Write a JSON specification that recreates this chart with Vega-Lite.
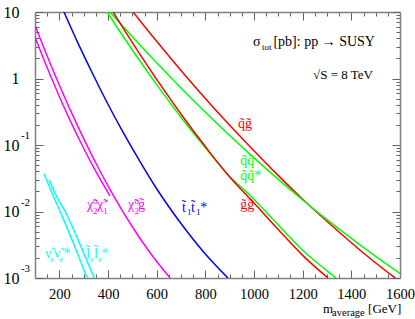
{
  "$schema": "https://vega.github.io/schema/vega-lite/v6.json",
  "width": 365,
  "height": 266,
  "autosize": {"type": "none"},
  "padding": {"left": 35, "top": 12, "right": 15, "bottom": 41},
  "config": {
    "view": {"stroke": null},
    "axis": {"domainColor": "#808080", "domainWidth": 1.5, "tickColor": "#606060", "tickWidth": 1, "labelFont": "Liberation Serif", "labelColor": "#000000", "grid": false, "title": null}
  },
  "datasets": {
    "curves": [
      {"p":"nn","x":137,"y":0.037},{"p":"nn","x":170,"y":0.019},{"p":"nn","x":203,"y":0.01},{"p":"nn","x":260,"y":0.0032},{"p":"nn","x":314,"y":0.001},
      {"p":"ll","x":158,"y":0.030},{"p":"ll","x":190,"y":0.0165},{"p":"ll","x":224,"y":0.01},{"p":"ll","x":285,"y":0.0032},{"p":"ll","x":343,"y":0.001},
      {"p":"c2c1","x":100,"y":4.2},{"p":"c2c1","x":120,"y":2.72},{"p":"c2c1","x":140,"y":1.79},{"p":"c2c1","x":168,"y":1.01},{"p":"c2c1","x":200,"y":0.537},{"p":"c2c1","x":240,"y":0.254},{"p":"c2c1","x":285,"y":0.115},{"p":"c2c1","x":350,"y":0.040},{"p":"c2c1","x":408,"y":0.0172},
      {"p":"c2g","x":100,"y":6.3},{"p":"c2g","x":120,"y":4.1},{"p":"c2g","x":150,"y":2.18},{"p":"c2g","x":200,"y":0.80},{"p":"c2g","x":250,"y":0.307},{"p":"c2g","x":300,"y":0.125},{"p":"c2g","x":360,"y":0.0455},{"p":"c2g","x":420,"y":0.018},{"p":"c2g","x":500,"y":0.0059},{"p":"c2g","x":570,"y":0.00248},{"p":"c2g","x":655,"y":0.001},
      {"p":"tt","x":219,"y":10},{"p":"tt","x":280,"y":3.2},{"p":"tt","x":340,"y":1.12},{"p":"tt","x":400,"y":0.41},{"p":"tt","x":460,"y":0.16},{"p":"tt","x":525,"y":0.062},{"p":"tt","x":600,"y":0.022},{"p":"tt","x":700,"y":0.0066},{"p":"tt","x":800,"y":0.0023},{"p":"tt","x":893,"y":0.001},
      {"p":"qg","x":503,"y":10},{"p":"qg","x":600,"y":3.62},{"p":"qg","x":700,"y":1.32},{"p":"qg","x":800,"y":0.50},{"p":"qg","x":881,"y":0.235},{"p":"qg","x":984,"y":0.094},{"p":"qg","x":1100,"y":0.0346},{"p":"qg","x":1200,"y":0.0153},{"p":"qg","x":1353,"y":0.0048},{"p":"qg","x":1470,"y":0.00207},{"p":"qg","x":1580,"y":0.001},
      {"p":"qq","x":408,"y":10},{"p":"qq","x":460,"y":6.14},{"p":"qq","x":520,"y":3.53},{"p":"qq","x":600,"y":1.72},{"p":"qq","x":700,"y":0.72},{"p":"qq","x":832,"y":0.24},{"p":"qq","x":900,"y":0.139},{"p":"qq","x":984,"y":0.0723},{"p":"qq","x":1100,"y":0.0304},{"p":"qq","x":1200,"y":0.0149},{"p":"qq","x":1300,"y":0.00753},{"p":"qq","x":1400,"y":0.00393},{"p":"qq","x":1500,"y":0.00211},{"p":"qq","x":1600,"y":0.00117},
      {"p":"qqs","x":396,"y":10},{"p":"qqs","x":450,"y":5.0},{"p":"qqs","x":500,"y":2.68},{"p":"qqs","x":600,"y":0.81},{"p":"qqs","x":708,"y":0.24},{"p":"qqs","x":800,"y":0.0908},{"p":"qqs","x":900,"y":0.0337},{"p":"qqs","x":984,"y":0.0174},{"p":"qqs","x":1107,"y":0.0059},{"p":"qqs","x":1200,"y":0.00262},{"p":"qqs","x":1300,"y":0.00128},{"p":"qqs","x":1337,"y":0.001},
      {"p":"gg","x":421,"y":10},{"p":"gg","x":470,"y":5.16},{"p":"gg","x":520,"y":2.67},{"p":"gg","x":600,"y":0.97},{"p":"gg","x":717,"y":0.24},{"p":"gg","x":800,"y":0.0947},{"p":"gg","x":900,"y":0.033},{"p":"gg","x":984,"y":0.0155},{"p":"gg","x":1107,"y":0.0050},{"p":"gg","x":1200,"y":0.00219},{"p":"gg","x":1304,"y":0.001}
    ],
    "labels": [
      {"k":"L","x":934,"y":0.18,"t":"q̃g̃","p":"qg"},
      {"k":"L","x":943,"y":0.050,"t":"q̃q̃","p":"qq"},
      {"k":"L","x":943,"y":0.030,"t":"q̃q̃*","p":"qqs"},
      {"k":"L","x":943,"y":0.0108,"t":"g̃g̃","p":"gg"},
      {"k":"L","x":704,"y":0.0099,"t":"t̃","p":"tt"},
      {"k":"L","x":741,"y":0.0099,"t":"t̃","p":"tt"},
      {"k":"L","x":779,"y":0.0099,"t":"*","p":"tt"},
      {"k":"L","x":482,"y":0.011,"t":"χ̃","p":"c2g"},
      {"k":"L","x":523,"y":0.011,"t":"g̃","p":"c2g"},
      {"k":"L","x":314,"y":0.011,"t":"χ̃","p":"c2c1"},
      {"k":"L","x":355,"y":0.011,"t":"χ̃","p":"c2c1"},
      {"k":"L","x":141,"y":0.0020,"t":"ν̃","p":"nn"},
      {"k":"L","x":178,"y":0.0020,"t":"ν̃","p":"nn"},
      {"k":"L","x":217,"y":0.0020,"t":"*","p":"nn"},
      {"k":"L","x":310,"y":0.0020,"t":"l̃","p":"ll"},
      {"k":"L","x":342,"y":0.0020,"t":"l̃","p":"ll"},
      {"k":"L","x":373,"y":0.0020,"t":"*","p":"ll"},
      {"k":"X","x":1284,"y":0.000298,"t":"m","p":"k"},
      {"k":"X","x":1469,"y":0.000298,"t":"[GeV]","p":"k"},
      {"k":"S","x":725,"y":0.0089,"t":"1","p":"tt"},
      {"k":"S","x":762,"y":0.0089,"t":"1","p":"tt"},
      {"k":"S","x":509,"y":0.013,"t":"o","p":"c2g"},
      {"k":"S","x":509,"y":0.0091,"t":"2","p":"c2g"},
      {"k":"S","x":338,"y":0.013,"t":"o","p":"c2c1"},
      {"k":"S","x":338,"y":0.0091,"t":"2","p":"c2c1"},
      {"k":"S","x":380,"y":0.013,"t":"+","p":"c2c1"},
      {"k":"S","x":380,"y":0.0091,"t":"1","p":"c2c1"},
      {"k":"S","x":162,"y":0.00174,"t":"e","p":"nn"},
      {"k":"S","x":199,"y":0.00174,"t":"e","p":"nn"},
      {"k":"S","x":326,"y":0.00174,"t":"e","p":"ll"},
      {"k":"S","x":359,"y":0.00174,"t":"e","p":"ll"},
      {"k":"S","x":1033,"y":2.69,"t":"tot","p":"k"},
      {"k":"A","x":1321,"y":0.000268,"t":"average","p":"k"},
      {"k":"G","x":996,"y":3.08,"t":"σ","p":"k"},
      {"k":"H","x":1497,"y":3.08,"t":"[pb]: pp → SUSY","p":"k"},
      {"k":"R","x":1489,"y":0.983,"t":"√S = 8 TeV","p":"k"},
      {"k":"E","x":42,"y":0.123,"t":"-1","p":"k"},
      {"k":"E","x":42,"y":0.0123,"t":"-2","p":"k"},
      {"k":"E","x":42,"y":0.00123,"t":"-3","p":"k"}
    ]
  },
  "resolve": {"axis": {"x": "independent", "y": "independent"}},
  "layer": [
    {
      "data": {"name": "curves"},
      "mark": {"type": "line", "strokeWidth": 1.5, "clip": true, "interpolate": "monotone"},
      "encoding": {
        "x": {"field": "x", "type": "quantitative", "scale": {"domain": [100, 1600], "nice": false, "zero": false},
          "axis": {"orient": "bottom", "values": [100,150,200,250,300,350,400,450,500,550,600,650,700,750,800,850,900,950,1000,1050,1100,1150,1200,1250,1300,1350,1400,1450,1500,1550,1600], "format": "d", "labelExpr": "datum.value % 200 == 0 ? datum.label : ''", "labelFont": "Liberation Serif", "labelFontSize": 14.5, "labelPadding": 17, "labelFlush": false, "labelOverlap": false, "tickSize": {"condition": {"test": "datum.value % 200 == 0", "value": -8}, "value": -4}, "title": null}},
        "y": {"field": "y", "type": "quantitative", "scale": {"type": "log", "domain": [0.001, 10], "nice": false},
          "axis": {"orient": "left", "values": [0.001,0.002,0.003,0.004,0.005,0.006,0.007,0.008,0.009,0.01,0.02,0.03,0.04,0.05,0.06,0.07,0.08,0.09,0.1,0.2,0.3,0.4,0.5,0.6,0.7,0.8,0.9,1,2,3,4,5,6,7,8,9,10], "labelExpr": "abs(log(datum.value)/LN10 - round(log(datum.value)/LN10)) < 0.001 ? (datum.value > 5 ? '10' : (datum.value > 0.5 ? '1' : '10')) : ''", "labelFont": "Liberation Serif", "labelFontSize": 16, "labelPadding": 24, "labelFlush": false, "labelOverlap": false, "tickSize": {"condition": {"test": "abs(log(datum.value)/LN10 - round(log(datum.value)/LN10)) < 0.001", "value": -8}, "value": -4}, "title": null}},
        "color": {"field": "p", "type": "nominal", "legend": null,
          "scale": {"domain": ["nn","ll","c2c1","c2g","tt","qq","qqs","gg","qg","k"], "range": ["#00ffff","#00ffff","#ff00ff","#ff00ff","#0000ff","#00ff00","#00ff00","#ff0000","#ff0000","#000000"]}}
      }
    },
    {
      "data": {"name": "curves"},
      "mark": {"type": "line", "strokeOpacity": 0, "clip": true},
      "encoding": {
        "x": {"field": "x", "type": "quantitative", "scale": {"domain": [100, 1600], "nice": false, "zero": false},
          "axis": {"orient": "top", "values": [100,150,200,250,300,350,400,450,500,550,600,650,700,750,800,850,900,950,1000,1050,1100,1150,1200,1250,1300,1350,1400,1450,1500,1550,1600], "labels": false, "tickSize": {"condition": {"test": "datum.value % 200 == 0", "value": -8}, "value": -4}, "title": null}},
        "y": {"field": "y", "type": "quantitative", "scale": {"type": "log", "domain": [0.001, 10], "nice": false},
          "axis": {"orient": "right", "values": [0.001,0.002,0.003,0.004,0.005,0.006,0.007,0.008,0.009,0.01,0.02,0.03,0.04,0.05,0.06,0.07,0.08,0.09,0.1,0.2,0.3,0.4,0.5,0.6,0.7,0.8,0.9,1,2,3,4,5,6,7,8,9,10], "labels": false, "tickSize": {"condition": {"test": "abs(log(datum.value)/LN10 - round(log(datum.value)/LN10)) < 0.001", "value": -8}, "value": -4}, "title": null}},
        "detail": {"field": "p", "type": "nominal"}
      }
    },
    {
      "data": {"name": "labels"},
      "transform": [{"filter": "datum.k == 'L'"}],
      "mark": {"type": "text", "align": "left", "baseline": "alphabetic", "font": "Liberation Serif", "fontSize": 14},
      "encoding": {
        "x": {"field": "x", "type": "quantitative", "axis": null, "scale": {"domain": [100, 1600], "nice": false, "zero": false}},
        "y": {"field": "y", "type": "quantitative", "axis": null, "scale": {"type": "log", "domain": [0.001, 10], "nice": false}},
        "text": {"field": "t"},
        "color": {"field": "p", "type": "nominal", "legend": null}
      }
    },
    {
      "data": {"name": "labels"},
      "transform": [{"filter": "datum.k == 'X'"}],
      "mark": {"type": "text", "align": "left", "baseline": "alphabetic", "font": "Liberation Serif", "fontSize": 13},
      "encoding": {
        "x": {"field": "x", "type": "quantitative", "axis": null, "scale": {"domain": [100, 1600], "nice": false, "zero": false}},
        "y": {"field": "y", "type": "quantitative", "axis": null, "scale": {"type": "log", "domain": [0.001, 10], "nice": false}},
        "text": {"field": "t"},
        "color": {"field": "p", "type": "nominal", "legend": null}
      }
    },
    {
      "data": {"name": "labels"},
      "transform": [{"filter": "datum.k == 'S'"}],
      "mark": {"type": "text", "align": "left", "baseline": "alphabetic", "font": "Liberation Serif", "fontSize": 9},
      "encoding": {
        "x": {"field": "x", "type": "quantitative", "axis": null, "scale": {"domain": [100, 1600], "nice": false, "zero": false}},
        "y": {"field": "y", "type": "quantitative", "axis": null, "scale": {"type": "log", "domain": [0.001, 10], "nice": false}},
        "text": {"field": "t"},
        "color": {"field": "p", "type": "nominal", "legend": null}
      }
    },
    {
      "data": {"name": "labels"},
      "transform": [{"filter": "datum.k == 'A'"}],
      "mark": {"type": "text", "align": "left", "baseline": "alphabetic", "font": "Liberation Serif", "fontSize": 10.5},
      "encoding": {
        "x": {"field": "x", "type": "quantitative", "axis": null, "scale": {"domain": [100, 1600], "nice": false, "zero": false}},
        "y": {"field": "y", "type": "quantitative", "axis": null, "scale": {"type": "log", "domain": [0.001, 10], "nice": false}},
        "text": {"field": "t"},
        "color": {"field": "p", "type": "nominal", "legend": null}
      }
    },
    {
      "data": {"name": "labels"},
      "transform": [{"filter": "datum.k == 'G'"}],
      "mark": {"type": "text", "align": "left", "baseline": "alphabetic", "font": "Liberation Serif", "fontSize": 14},
      "encoding": {
        "x": {"field": "x", "type": "quantitative", "axis": null, "scale": {"domain": [100, 1600], "nice": false, "zero": false}},
        "y": {"field": "y", "type": "quantitative", "axis": null, "scale": {"type": "log", "domain": [0.001, 10], "nice": false}},
        "text": {"field": "t"},
        "color": {"field": "p", "type": "nominal", "legend": null}
      }
    },
    {
      "data": {"name": "labels"},
      "transform": [{"filter": "datum.k == 'H'"}],
      "mark": {"type": "text", "align": "right", "baseline": "alphabetic", "font": "Liberation Serif", "fontSize": 14},
      "encoding": {
        "x": {"field": "x", "type": "quantitative", "axis": null, "scale": {"domain": [100, 1600], "nice": false, "zero": false}},
        "y": {"field": "y", "type": "quantitative", "axis": null, "scale": {"type": "log", "domain": [0.001, 10], "nice": false}},
        "text": {"field": "t"},
        "color": {"field": "p", "type": "nominal", "legend": null}
      }
    },
    {
      "data": {"name": "labels"},
      "transform": [{"filter": "datum.k == 'R'"}],
      "mark": {"type": "text", "align": "right", "baseline": "alphabetic", "font": "Liberation Serif", "fontSize": 13},
      "encoding": {
        "x": {"field": "x", "type": "quantitative", "axis": null, "scale": {"domain": [100, 1600], "nice": false, "zero": false}},
        "y": {"field": "y", "type": "quantitative", "axis": null, "scale": {"type": "log", "domain": [0.001, 10], "nice": false}},
        "text": {"field": "t"},
        "color": {"field": "p", "type": "nominal", "legend": null}
      }
    },
    {
      "data": {"name": "labels"},
      "transform": [{"filter": "datum.k == 'E'"}],
      "mark": {"type": "text", "align": "left", "baseline": "alphabetic", "font": "Liberation Serif", "fontSize": 11},
      "encoding": {
        "x": {"field": "x", "type": "quantitative", "axis": null, "scale": {"domain": [100, 1600], "nice": false, "zero": false}},
        "y": {"field": "y", "type": "quantitative", "axis": null, "scale": {"type": "log", "domain": [0.001, 10], "nice": false}},
        "text": {"field": "t"},
        "color": {"field": "p", "type": "nominal", "legend": null}
      }
    }
  ]
}
